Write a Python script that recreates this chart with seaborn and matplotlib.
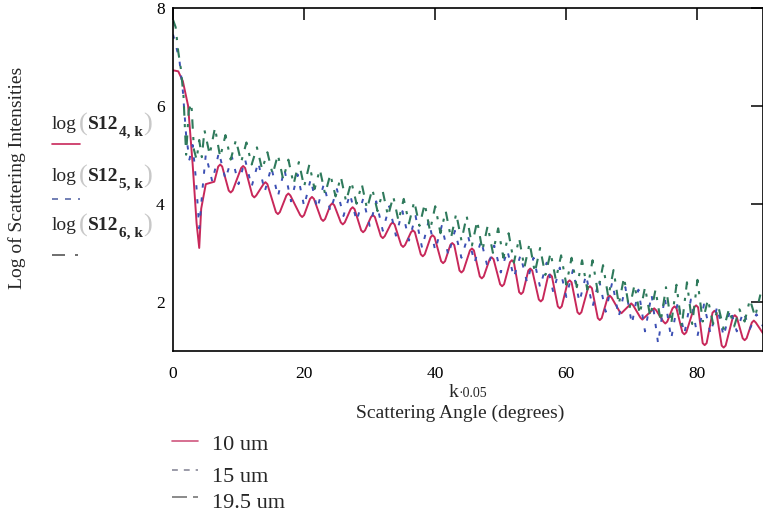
import numpy as np
import matplotlib
matplotlib.use("Agg")
import matplotlib.pyplot as plt
import seaborn as sns

# ---------------- data ----------------
# 10 um curve: angle (deg) and log intensity (turning points and their shoulders)
red_angle = [0.0, 0.8, 1.5, 2.3, 3.0, 3.6, 4.0, 4.3, 5.0, 6.3,
             6.9, 7.2, 7.5, 8.5, 8.8, 9.1, 10.4, 10.7, 11.0, 12.1, 12.4, 12.7,
             13.8, 14.1, 14.4, 15.7, 16.0, 16.3, 17.3, 17.6, 17.9, 19.4, 19.7, 20.0,
             20.9, 21.2, 21.5, 22.6, 22.9, 23.2, 24.0, 24.3, 24.6, 25.6, 25.9, 26.2,
             27.1, 27.4, 27.7, 28.7, 29.0, 29.3, 30.2, 30.5, 30.8, 31.7, 32.0, 32.3,
             33.2, 33.5, 33.8, 34.8, 35.1, 35.4, 36.3, 36.6, 36.9, 37.8, 38.1, 38.4,
             39.3, 39.6, 39.9, 40.9, 41.2, 41.5, 42.3, 42.6, 42.9, 43.7, 44.0, 44.3,
             45.3, 45.6, 45.9, 46.8, 47.1, 47.4, 48.3, 48.6, 48.9, 49.9, 50.2, 50.5,
             51.4, 51.7, 52.0, 52.8, 53.1, 53.4, 54.2, 54.5, 54.8, 55.8, 56.1, 56.4,
             57.2, 57.5, 57.8, 58.7, 59.0, 59.3, 60.2, 60.5, 60.8, 61.7, 62.0, 62.3,
             63.3, 63.6, 63.9, 64.8, 65.1, 65.4, 66.3, 66.6, 66.9, 68.1, 68.4, 68.7,
             69.6, 69.9, 70.2, 71.3, 71.6, 71.9, 73.1, 73.4, 73.7, 74.8, 75.1, 75.4,
             76.2, 76.5, 76.8, 77.7, 78.0, 78.3, 79.5, 79.8, 80.1, 80.8, 81.1, 81.4,
             82.3, 82.6, 82.9, 83.7, 84.0, 84.3, 85.4, 85.7, 86.0, 86.9, 87.2, 87.5,
             88.3, 88.6, 88.9, 90.0]
red_log = [6.72, 6.70, 6.50, 6.00, 4.80, 3.60, 3.10, 3.90, 4.40, 4.45,
           4.76, 4.80, 4.76, 4.27, 4.23, 4.27, 4.73, 4.77, 4.73, 4.17, 4.13, 4.17,
           4.40, 4.44, 4.40, 3.83, 3.79, 3.83, 4.17, 4.21, 4.17, 3.77, 3.73, 3.77,
           4.10, 4.14, 4.10, 3.69, 3.65, 3.69, 3.97, 4.01, 3.97, 3.62, 3.58, 3.62,
           3.89, 3.93, 3.89, 3.46, 3.42, 3.46, 3.73, 3.77, 3.73, 3.34, 3.30, 3.34,
           3.58, 3.62, 3.58, 3.16, 3.12, 3.16, 3.42, 3.46, 3.42, 2.97, 2.93, 2.97,
           3.32, 3.36, 3.32, 2.83, 2.79, 2.83, 3.16, 3.20, 3.16, 2.64, 2.60, 2.64,
           3.05, 3.09, 3.05, 2.52, 2.48, 2.52, 2.87, 2.91, 2.87, 2.36, 2.32, 2.36,
           2.81, 2.85, 2.81, 2.20, 2.16, 2.20, 2.64, 2.68, 2.64, 2.05, 2.01, 2.05,
           2.52, 2.56, 2.52, 1.91, 1.87, 1.91, 2.40, 2.44, 2.40, 1.79, 1.75, 1.79,
           2.28, 2.32, 2.28, 1.67, 1.63, 1.67, 2.09, 2.13, 2.09, 1.81, 1.77, 1.81,
           1.93, 1.97, 1.93, 1.68, 1.64, 1.68, 1.83, 1.87, 1.83, 1.60, 1.56, 1.60,
           1.87, 1.91, 1.87, 1.38, 1.34, 1.38, 1.89, 1.93, 1.89, 1.16, 1.12, 1.16,
           1.78, 1.82, 1.78, 1.11, 1.07, 1.11, 1.69, 1.73, 1.69, 1.26, 1.22, 1.26,
           1.58, 1.62, 1.58, 1.36]

# 15 um curve
blue_angle = [0.0, 0.5, 1.0, 1.5, 2.0, 2.5, 3.0, 3.5, 4.0, 4.5, 5.0] + list(range(6, 91))
blue_log = [7.45, 7.20, 6.90, 6.30, 5.40, 4.90, 5.20, 4.50, 3.50, 4.30, 5.00,
            4.45, 5.05, 4.50, 4.95, 4.40, 4.90, 4.35, 4.85, 4.25, 4.75,
            4.15, 4.70, 4.05, 4.60, 3.95, 4.50, 3.90, 4.40, 3.85, 4.30,
            3.75, 4.20, 3.65, 4.10, 3.55, 4.05, 3.45, 3.95, 3.35, 3.85,
            3.25, 3.75, 3.10, 3.65, 3.05, 3.55, 2.95, 3.45, 2.90, 3.35,
            2.80, 3.25, 2.70, 3.15, 2.60, 3.05, 2.50, 2.95, 2.40, 2.90,
            2.30, 2.80, 2.20, 2.70, 2.10, 2.65, 2.00, 2.55, 1.90, 2.45,
            1.80, 2.40, 1.70, 2.30, 1.55, 2.25, 1.40, 2.15, 1.15, 2.10,
            1.25, 2.00, 1.35, 2.05, 1.30, 1.95, 1.35, 1.90, 1.30, 1.85,
            1.40, 1.80, 1.45, 1.75, 1.50]

# 19.5 um curve
green_angle = [0.0, 0.4, 0.8, 1.2, 1.6, 2.0, 2.4, 2.8, 3.2, 3.6, 4.0, 4.4] + \
              list(np.round(np.arange(4.8, 89.7, 0.8), 1))
green_log = [7.75, 7.60, 7.10, 6.75, 6.20, 5.00, 5.90, 6.05, 5.10, 4.90, 5.30, 4.95,
             5.50, 5.00, 5.55, 4.95, 5.40, 4.90, 5.30, 4.85, 5.25, 4.80,
             5.15, 4.70, 5.05, 4.60, 5.00, 4.50, 4.90, 4.40, 4.85, 4.35,
             4.80, 4.30, 4.70, 4.20, 4.60, 4.15, 4.55, 4.05, 4.45, 4.00,
             4.40, 3.90, 4.30, 3.85, 4.25, 3.75, 4.15, 3.65, 4.10, 3.60,
             4.05, 3.55, 4.00, 3.45, 3.95, 3.40, 3.85, 3.30, 3.80, 3.25,
             3.75, 3.15, 3.65, 3.05, 3.55, 3.00, 3.50, 2.90, 3.40, 2.80,
             3.30, 2.70, 3.20, 2.60, 3.10, 2.55, 3.00, 2.45, 2.95, 2.35,
             2.90, 2.30, 2.85, 2.25, 2.85, 2.20, 2.75, 2.10, 2.65, 1.95,
             2.50, 1.85, 2.35, 1.75, 2.30, 1.70, 2.25, 1.60, 2.30, 1.55,
             2.35, 1.50, 2.40, 1.55, 2.45, 1.60, 2.05, 1.55, 1.90, 1.45,
             1.85, 1.50, 1.85, 1.60, 2.05, 1.70, 2.15]

x_ticks = [0, 20, 40, 60, 80]
y_ticks = [2, 4, 6, 8]
series_names = ["10 um", "15 um", "19.5 um"]
expr_subs = ["4, k", "5, k", "6, k"]

# ---------------- style ----------------
sns.set_style("white")
plt.rcParams['font.family'] = ['Liberation Serif', 'DejaVu Serif']

W, H = 763, 517
fig = plt.figure(figsize=(W / 100, H / 100), dpi=100)
fig.patch.set_facecolor('white')

def fx(x):
    return x / W

def fy(y):
    return 1 - y / H

left, right, top, bottom = 173, 763, 7.5, 351
ax = fig.add_axes([fx(left), fy(bottom), fx(right - left), (bottom - top) / H])

RED = '#c8285a'
BLUE = '#3c50b4'
GREEN = '#2f7a5c'

sns.lineplot(x=red_angle, y=red_log, ax=ax, color=RED, lw=1.4, sort=False,
             estimator=None, solid_joinstyle='round')
sns.lineplot(x=blue_angle, y=blue_log, ax=ax, color=BLUE, lw=1.4, sort=False,
             estimator=None, linestyle=(0, (2.2, 5)))
sns.lineplot(x=green_angle, y=green_log, ax=ax, color=GREEN, lw=1.5, sort=False,
             estimator=None, linestyle=(0, (4.5, 4, 1.5, 4)))

ax.set_xlim(0, 90)
ax.set_ylim(1, 8)
ax.set_xticks(x_ticks)
ax.set_yticks(y_ticks)
ax.set_xticklabels([str(t) for t in x_ticks])
ax.set_yticklabels([str(t) for t in y_ticks])
ax.tick_params(direction='in', length=8.5, width=1.1, top=True, right=True,
               labeltop=False, labelright=False, colors='black', labelsize=12.5)
ax.tick_params(axis='x', pad=11)
ax.tick_params(axis='y', pad=6)
for sp in ax.spines.values():
    sp.set_visible(True)
    sp.set_color('black')
    sp.set_linewidth(1.2)
ax.set_xlabel('')
ax.set_ylabel('')
ax.grid(False)

# y-axis title
fig.text(fx(17), fy(178), 'Log of Scattering Intensities', rotation=90,
         ha='center', va='center', fontsize=14)

# left expression labels with line samples
base_y = [129, 181, 230]
line_y = [144, 199, 255]
line_styles = [dict(color=RED, lw=1.2, ls='-'),
               dict(color='#5a6aa8', lw=1.2, ls=(0, (3.6, 4.2))),
               dict(color='#555555', lw=1.2, ls=(0, (7.8, 6, 1.8, 20)))]
for by, ly, sub, st in zip(base_y, line_y, expr_subs, line_styles):
    fig.text(fx(52), fy(by), 'log', fontsize=14, va='baseline', ha='left')
    fig.text(fx(79), fy(by + 2), '(', fontsize=19, va='baseline', ha='left',
             color='#c8c8c8')
    fig.text(fx(88), fy(by), 'S12', fontsize=14, va='baseline', ha='left',
             fontweight='bold')
    fig.text(fx(119), fy(by + 7), sub, fontsize=11, va='baseline', ha='left',
             fontweight='bold')
    fig.text(fx(143), fy(by + 2), ')', fontsize=19, va='baseline', ha='left',
             color='#c8c8c8')
    fig.lines.append(plt.Line2D([fx(52), fx(80)], [fy(ly), fy(ly)],
                                transform=fig.transFigure, **st))

# x-axis title
fig.text(fx(458), fy(397), 'k', fontsize=14, va='baseline', ha='right')
fig.text(fx(458), fy(397), '\u00b70.05', fontsize=10, va='baseline', ha='left')
fig.text(fx(460), fy(413), 'Scattering Angle (degrees)', fontsize=14,
         va='center', ha='center')

# bottom legend
leg_line_y = [441, 470, 497]
leg_text_y = [446, 477, 504]
leg_styles = [dict(color='#d0567e', lw=1.2, ls='-'),
              dict(color='#8a8a9a', lw=1.2, ls=(0, (3.5, 3.6))),
              dict(color='#777777', lw=1.2, ls=(0, (9, 3.6, 3, 20)))]
for ly, ty, name, st in zip(leg_line_y, leg_text_y, series_names, leg_styles):
    fig.lines.append(plt.Line2D([fx(172), fx(198)], [fy(ly), fy(ly)],
                                transform=fig.transFigure, **st))
    fig.text(fx(212), fy(ty), name, fontsize=16, va='center', ha='left')

fig.savefig('out.png', dpi=100, facecolor='white')
